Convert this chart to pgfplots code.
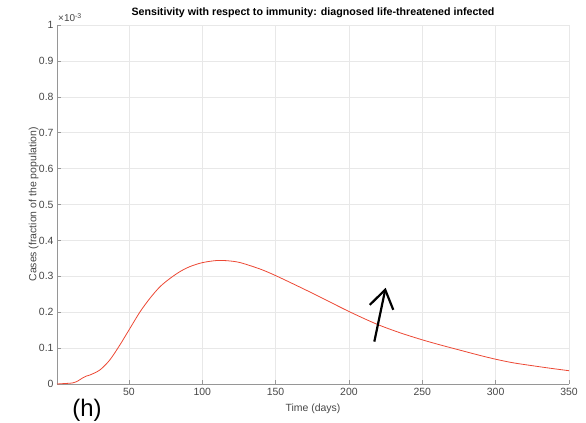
\documentclass[border=0pt]{standalone}
\usepackage{fontspec}
\setmainfont{Liberation Sans}
\usepackage{pgfplots}
\pgfplotsset{compat=1.18}
\usetikzlibrary{arrows.meta}

\definecolor{curvered}{RGB}{236,72,52}
\definecolor{axgray}{RGB}{150,150,150}
\definecolor{txtgray}{RGB}{70,70,70}
\definecolor{gridgray}{RGB}{232,232,232}

\begin{document}
\begin{tikzpicture}
\useasboundingbox (-57bp,-39bp) rectangle (529bp,384bp);
\begin{axis}[
    name=ax,
    at={(0,0)}, anchor=south west,
    scale only axis,
    width=512bp, height=359bp,
    xmin=1, xmax=350,
    ymin=0, ymax=1,
    axis x line*=bottom,
    axis y line*=left,
    axis line style={axgray, line width=0.6pt},
    xtick={50,100,...,350},
    ytick={0,0.1,...,1},
    yticklabels={0,0.1,0.2,0.3,0.4,0.5,0.6,0.7,0.8,0.9,1},
    tick align=inside,
    major tick length=4bp,
    tick style={axgray, line width=0.5pt},
    grid=major,
    major grid style={gridgray, line width=0.5pt},
    ticklabel style={font=\fontsize{10.5}{12}\selectfont, text=txtgray},
    xticklabel style={yshift=-1bp},
    /pgf/number format/assume math mode=true,
    xlabel={Time (days)},
    ylabel={Cases (fraction of the population)},
    label style={font=\fontsize{10.5}{12}\selectfont, text=txtgray},
    xlabel style={at={(axis description cs:0.5,0)}, anchor=north, yshift=-16bp},
    ylabel style={at={(axis description cs:0,0.5)}, anchor=south, yshift=15bp},
    title={Sensitivity with respect to immunity: diagnosed life-threatened infected},
    title style={font=\bfseries\fontsize{10.7}{12}\selectfont, at={(0.5,1)}, anchor=base, yshift=4bp},
    clip=false,
]
\addplot[curvered, line width=0.8pt, smooth] coordinates {
    (1,0) (5,0.001) (11.6,0.003) (15,0.008) (18.5,0.017) (21,0.022) (23.4,0.025)
    (30.2,0.039) (37,0.067) (43.9,0.109) (50,0.150) (57.6,0.201) (64.4,0.239)
    (71.2,0.271) (78,0.294) (84.8,0.313) (91.6,0.327) (100,0.338) (110,0.344)
    (118,0.343) (126,0.338) (139.6,0.320) (150,0.302) (166.5,0.270) (180,0.243)
    (200,0.202) (218.8,0.167) (234.6,0.143) (250,0.123) (263,0.108) (275,0.095)
    (288,0.081) (300,0.069) (312,0.059) (325,0.051) (337,0.044) (350,0.037)
};
\draw[black, line width=2.2pt, -{Straight Barb[length=18bp, width=24bp]}]
    (axis cs:217.3,0.118) -- (axis cs:225,0.268);
\node[anchor=south west, inner sep=0pt, font=\fontsize{10}{11}\selectfont, text=txtgray]
    at (rel axis cs:0,1) [xshift=1bp, yshift=3bp] {×10\textsuperscript{-3}};
\end{axis}
\node[font=\fontsize{24}{26}\selectfont] at (30bp,-26bp) {(h)};
\end{tikzpicture}
\end{document}
